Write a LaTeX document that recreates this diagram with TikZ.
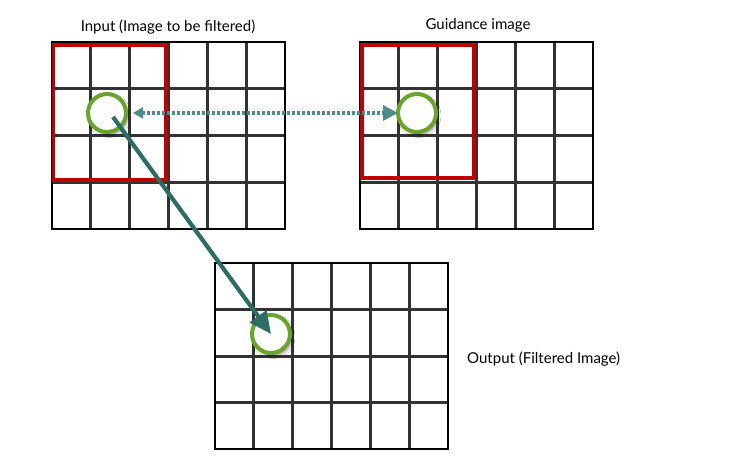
\documentclass[tikz,border=0pt]{standalone}
\usepackage{fontspec}
\setmainfont{Lato}
\usetikzlibrary{shadows.blur,arrows.meta}
\definecolor{gridc}{RGB}{50,50,50}
\definecolor{redc}{RGB}{192,0,0}
\definecolor{ringc}{RGB}{106,164,44}
\definecolor{arrc}{RGB}{44,110,98}
\definecolor{dotc}{RGB}{78,140,140}
\tikzset{
  gridline/.style={draw=gridc, line width=3pt},
  frameline/.style={draw=black, line width=2.6pt},
  redbox/.style={draw=redc, line width=3.2pt},
  ring/.style={circle, draw=ringc, line width=4pt, fill=white, minimum size=38pt, inner sep=0pt,
    blur shadow={shadow blur steps=6, shadow xshift=2pt, shadow yshift=-2.5pt, shadow opacity=45, shadow blur radius=3pt}},
  lbl/.style={font=\fontsize{15}{17}\selectfont, inner sep=0pt},
  bigarrow/.style={draw=arrc, line width=4.2pt, -{Triangle[length=22pt,width=20pt]}},
  dotarrow/.style={draw=dotc, line width=3.2pt, dash pattern=on 3pt off 2pt, {Triangle[length=10pt,width=11pt]}-{Triangle[length=15pt,width=15pt]}}
}
\newcommand{\mygrid}[4]{% x0 y0 x1 y1
  \foreach \i in {1,...,5} { \draw[gridline] ({#1+(#3-#1)*\i/6},#2) -- ({#1+(#3-#1)*\i/6},#4); }
  \foreach \j in {1,2,3} { \draw[gridline] (#1,{#2+(#4-#2)*\j/4}) -- (#3,{#2+(#4-#2)*\j/4}); }
  \draw[frameline] (#1,#2) rectangle (#3,#4);
}
\begin{document}
\begin{tikzpicture}[x=1pt,y=-1pt]
\useasboundingbox[fill=white] (0,0) rectangle (744,462);
% grids
\mygrid{52}{42}{285}{229}
\mygrid{360}{42}{593}{229}
\mygrid{215}{263}{448}{449}
% red windows
\draw[redbox] (53.5,45) rectangle (166,180);
\draw[redbox] (362,45) rectangle (474,178);
% labels
\node[lbl] (lin) at (168,27) {Input (Image to be filtered)};
\node[lbl] (lguide) at (478,25) {Guidance image};
\node[lbl, anchor=west] (lout) at (467,359) {Output (Filtered Image)};
% rings
\node[ring] (a) at (107,113) {};
\node[ring] (g) at (417,113) {};
\node[ring] (o) at (271,334) {};
% arrows
\draw[dotarrow] ([xshift=5pt]a.east) -- ([xshift=2pt]g.west);
\draw[bigarrow] ([xshift=6pt,yshift=-4pt]a.center) -- (o.center);
\end{tikzpicture}
\end{document}
